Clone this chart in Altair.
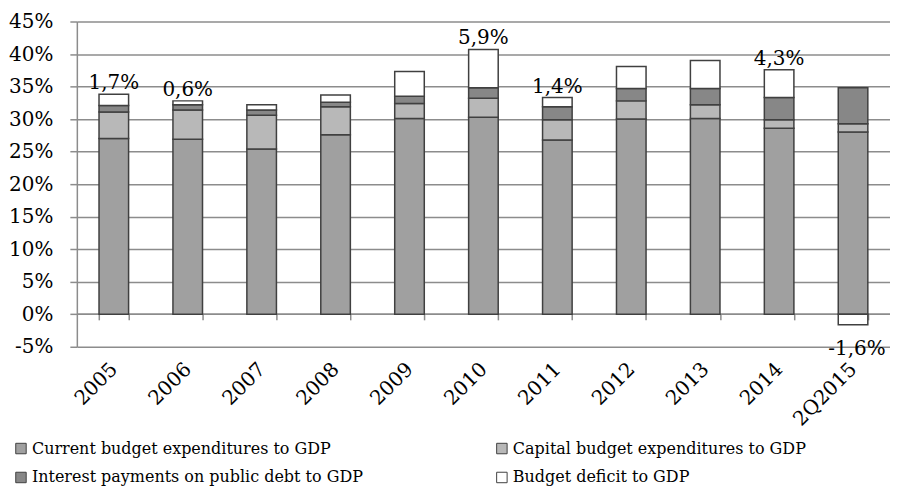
import altair as alt
import pandas as pd

years = ["2005", "2006", "2007", "2008", "2009", "2010", "2011", "2012", "2013", "2014", "2Q2015"]
series_names = [
    "Current budget expenditures to GDP",
    "Capital budget expenditures to GDP",
    "Interest payments on public debt to GDP",
    "Budget deficit to GDP",
]
current = [27.0, 26.9, 25.4, 27.6, 30.1, 30.3, 26.8, 30.0, 30.1, 28.6, 28.0]
capital = [4.1, 4.5, 5.2, 4.3, 2.3, 2.9, 3.1, 2.8, 2.1, 1.3, 1.3]
interest = [1.0, 0.8, 0.8, 0.7, 1.1, 1.6, 2.0, 1.9, 2.5, 3.4, 5.5]
deficit = [1.7, 0.6, 0.8, 1.1, 3.8, 5.9, 1.4, 3.4, 4.3, 4.3, -1.6]

label_years = ["2005", "2006", "2010", "2011", "2014", "2Q2015"]
label_texts = ["1,7%", "0,6%", "5,9%", "1,4%", "4,3%", "-1,6%"]

fills = ["#a0a0a0", "#b8b8b8", "#878787", "#ffffff"]

# legend fills column-by-column, so list entries in column-major order
legend_order = [0, 2, 1, 3]
legend_domain = [series_names[i] for i in legend_order]
legend_range = [fills[i] for i in legend_order]

rows = []
for i, yr in enumerate(years):
    for k, (name, vals) in enumerate(zip(series_names, [current, capital, interest, deficit])):
        rows.append({"year": yr, "series": name, "value": vals[i], "k": k})
df = pd.DataFrame(rows)

pos_labels, neg_labels = [], []
for yr, t in zip(label_years, label_texts):
    i = years.index(yr)
    vals = [current[i], capital[i], interest[i], deficit[i]]
    if deficit[i] >= 0:
        pos_labels.append({"year": yr, "text": t, "y": sum(v for v in vals if v > 0)})
    else:
        neg_labels.append({"year": yr, "text": t, "y": sum(v for v in vals if v < 0)})
pos_df = pd.DataFrame(pos_labels)
neg_df = pd.DataFrame(neg_labels)

FONT = "DejaVu Serif"
GRID = "#8c8c8c"

x_enc = alt.X(
    "year:N",
    sort=years,
    scale=alt.Scale(paddingInner=0.6, paddingOuter=0.3),
    axis=alt.Axis(
        title=None,
        offset=-33,
        tickBand="extent",
        labelAngle=-45,
        labelAlign="right",
        labelBaseline="middle",
        labelPadding=46,
        grid=False,
    ),
)

bars = alt.Chart(df).mark_bar(stroke="#404040", strokeWidth=1.5).encode(
    x=x_enc,
    y=alt.Y(
        "value:Q",
        stack="zero",
        scale=alt.Scale(domain=[-5, 45], nice=False, zero=False),
        axis=alt.Axis(
            title=None,
            values=list(range(-5, 50, 5)),
            tickCount=20,
            labelExpr="datum.value + '%'",
        ),
    ),
    fill=alt.Fill(
        "series:N",
        scale=alt.Scale(domain=legend_domain, range=legend_range),
        legend=alt.Legend(
            title=None,
            orient="none",
            legendX=-64,
            legendY=420,
            columns=2,
            columnPadding=131,
            rowPadding=13,
            padding=0,
            symbolType="square",
            symbolSize=110,
            symbolStrokeColor="#404040",
            symbolStrokeWidth=1,
            labelOffset=3,
            labelLimit=500,
        ),
    ),
    order=alt.Order("k:Q", sort="ascending"),
)

pos_text = alt.Chart(pos_df).mark_text(
    font=FONT, fontSize=20, baseline="alphabetic", dy=-5, color="black"
).encode(x=alt.X("year:N", sort=years), y=alt.Y("y:Q"), text="text:N")

neg_text = alt.Chart(neg_df).mark_text(
    font=FONT, fontSize=20, baseline="top", dy=14, dx=4, color="black"
).encode(x=alt.X("year:N", sort=years), y=alt.Y("y:Q"), text="text:N")

chart = (
    alt.layer(bars, pos_text, neg_text)
    .properties(width=815, height=326, padding={"left": 0, "top": 3, "right": 0, "bottom": 0})
    .configure_view(stroke=None)
    .configure_axis(
        labelOverlap=False,
        labelFlush=False,
        labelColor="black",
        labelFont=FONT,
        labelFontSize=20,
        domainColor=GRID,
        domainWidth=1.5,
        tickColor=GRID,
        tickWidth=1.5,
        gridColor=GRID,
        gridWidth=1.5,
    )
    .configure_axisY(labelPadding=17, tickSize=7)
    .configure_axisX(tickSize=6)
    .configure_legend(labelFont=FONT, labelFontSize=16, labelColor="black")
)

chart.save("out.html", embed_options={"renderer": "svg", "actions": False})
